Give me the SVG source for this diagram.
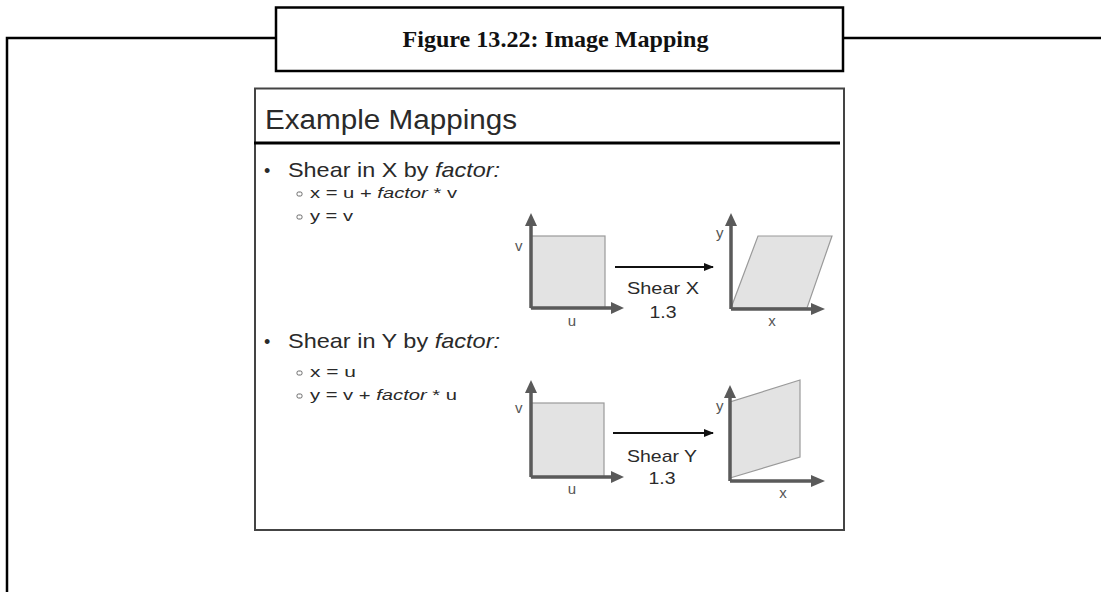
<svg xmlns="http://www.w3.org/2000/svg" width="1101" height="592" viewBox="0 0 1101 592">
<defs>
<style>
.frame{stroke:#000;stroke-width:2.5;fill:none}
.slide{font-family:"Liberation Sans",Arial,sans-serif;fill:#2a2a2a}
.lbl{font-family:"Liberation Sans",Arial,sans-serif;fill:#555;font-size:15px}
.axis{stroke:#5a5a5a;stroke-width:3.5;fill:none}
.shape{fill:#e3e3e3;stroke:#9a9a9a;stroke-width:1.2}
.arr{stroke:#111;stroke-width:2;fill:none}
.sb{fill:none;stroke:#666;stroke-width:1}
</style>
<marker id="ah" markerWidth="10" markerHeight="8" refX="9" refY="4" orient="auto" markerUnits="userSpaceOnUse">
<path d="M0,0 L10,4 L0,8 Z" fill="#111"/>
</marker>
</defs>
<rect width="1101" height="592" fill="#fff"/>
<g id="frame">
<path class="frame" d="M7,592 V38 H276 M843,38 H1101"/>
<rect class="frame" x="276" y="7.5" width="567" height="63.5" fill="#fff"/>
<text x="555.5" y="47" text-anchor="middle" font-family="'Liberation Serif','Times New Roman',serif" font-weight="bold" font-size="23" fill="#111" textLength="306" lengthAdjust="spacingAndGlyphs">Figure 13.22: Image Mapping</text>
</g>
<g id="slide">
<rect x="255" y="88.5" width="589" height="441.5" fill="#fff" stroke="#444" stroke-width="2"/>
<text class="slide" x="265" y="129" font-size="27" textLength="252" lengthAdjust="spacingAndGlyphs">Example Mappings</text>
<line x1="254" y1="143" x2="840" y2="143" stroke="#000" stroke-width="3"/>
<text class="slide" x="264" y="177" font-size="18">•</text>
<text class="slide" x="288" y="177" font-size="21" textLength="212" lengthAdjust="spacingAndGlyphs">Shear in X by <tspan font-style="italic">factor:</tspan></text>
<rect class="sb" x="297" y="192" width="5" height="4" rx="1.5"/>
<text class="slide" x="310" y="198" font-size="15" textLength="147" lengthAdjust="spacingAndGlyphs">x = u + <tspan font-style="italic">factor</tspan> * v</text>
<rect class="sb" x="297" y="215" width="5" height="4" rx="1.5"/>
<text class="slide" x="310" y="221" font-size="15" textLength="43" lengthAdjust="spacingAndGlyphs">y = v</text>
<text class="slide" x="264" y="348" font-size="18">•</text>
<text class="slide" x="288" y="348" font-size="21" textLength="212" lengthAdjust="spacingAndGlyphs">Shear in Y by <tspan font-style="italic">factor:</tspan></text>
<rect class="sb" x="297" y="371" width="5" height="4" rx="1.5"/>
<text class="slide" x="310" y="377" font-size="15" textLength="46" lengthAdjust="spacingAndGlyphs">x = u</text>
<rect class="sb" x="297" y="394" width="5" height="4" rx="1.5"/>
<text class="slide" x="310" y="400" font-size="15" textLength="147" lengthAdjust="spacingAndGlyphs">y = v + <tspan font-style="italic">factor</tspan> * u</text>
</g>
<g id="shearX-source">
<rect class="shape" x="531" y="236" width="74" height="72"/>
<path class="axis" d="M531,308 V224 M531,308 H613"/>
<path d="M525,226 L531,213 L537,226 Z" fill="#5a5a5a"/>
<path d="M611,302 L624,308 L611,314 Z" fill="#5a5a5a"/>
<text class="lbl" x="515" y="251">v</text>
<text class="lbl" x="572" y="326" text-anchor="middle">u</text>
</g>
<g id="shearX-result">
<path class="shape" d="M731,308 L807,308 L832,236 L758,236 Z"/>
<path class="axis" d="M731,309 V224 M731,309 H813"/>
<path d="M725,226 L731,213 L737,226 Z" fill="#5a5a5a"/>
<path d="M811,303 L825,309 L811,315 Z" fill="#5a5a5a"/>
<text class="lbl" x="716" y="238">y</text>
<text class="lbl" x="772" y="326" text-anchor="middle">x</text>
</g>
<g id="shearY-source">
<rect class="shape" x="531" y="403" width="73" height="74"/>
<path class="axis" d="M531,477 V391 M531,477 H613"/>
<path d="M525,393 L531,380 L537,393 Z" fill="#5a5a5a"/>
<path d="M611,471 L624,477 L611,483 Z" fill="#5a5a5a"/>
<text class="lbl" x="515" y="413">v</text>
<text class="lbl" x="572" y="494" text-anchor="middle">u</text>
</g>
<g id="shearY-result">
<path class="shape" d="M730,478 L800,457 L800,380 L730,402 Z"/>
<path class="axis" d="M730,481 V396 M730,481 H813"/>
<path d="M724,398 L730,385 L736,398 Z" fill="#5a5a5a"/>
<path d="M811,475 L825,481 L811,487 Z" fill="#5a5a5a"/>
<text class="lbl" x="716" y="411">y</text>
<text class="lbl" x="783" y="498" text-anchor="middle">x</text>
</g>
<g id="connectors">
<line class="arr" x1="615" y1="267" x2="713" y2="267" marker-end="url(#ah)"/>
<text class="slide" x="663" y="294" font-size="17" text-anchor="middle" textLength="72" lengthAdjust="spacingAndGlyphs">Shear X</text>
<text class="slide" x="663" y="318" font-size="17" text-anchor="middle" textLength="27" lengthAdjust="spacingAndGlyphs">1.3</text>
<line class="arr" x1="613" y1="433" x2="713" y2="433" marker-end="url(#ah)"/>
<text class="slide" x="662" y="462" font-size="17" text-anchor="middle" textLength="70" lengthAdjust="spacingAndGlyphs">Shear Y</text>
<text class="slide" x="662" y="484" font-size="17" text-anchor="middle" textLength="27" lengthAdjust="spacingAndGlyphs">1.3</text>
</g>
</svg>
